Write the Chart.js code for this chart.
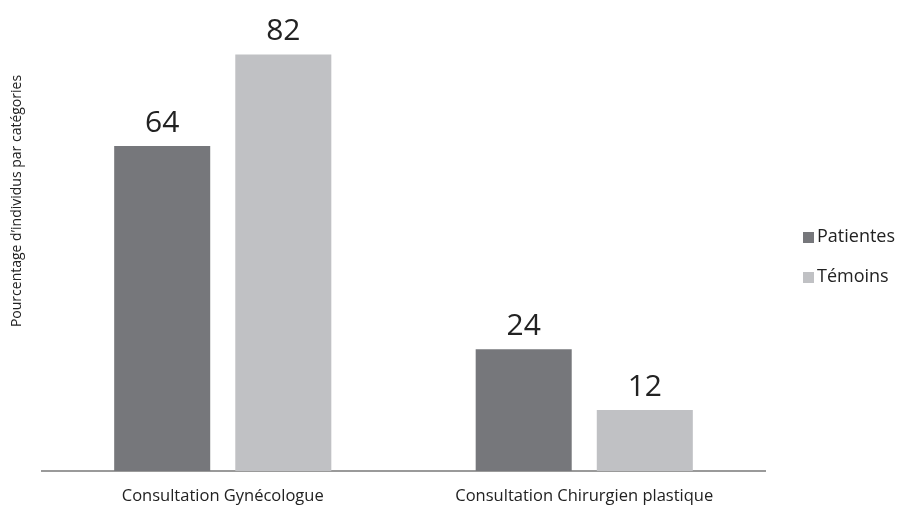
<!DOCTYPE html>
<html lang="fr">
<head>
    <meta charset="UTF-8">
    <title>Consultations</title>
    <script src="https://cdn.jsdelivr.net/npm/chart.js"></script>
    <style>
        html, body { margin: 0; padding: 0; background: #fff; }
        #wrap { width: 899px; height: 507px; }
    </style>
</head>
<body>
    <div id="wrap"><canvas id="chart"></canvas></div>

    <script>
        const categories = ['Consultation Gynécologue', 'Consultation Chirurgien plastique'];
        const patientes = [64, 24];
        const temoins = [82, 12];
        const seriesNames = ['Patientes', 'Témoins'];
        const yTitle = 'Pourcentage d\u2019individus par catégories';

        const FONT = '"Open Sans", sans-serif';

        // numbers above bars + rotated y title + legend on the right
        const extras = {
            id: 'extras',
            afterDatasetsDraw(chart) {
                const ctx = chart.ctx;
                ctx.save();
                ctx.fillStyle = '#222';
                ctx.font = '30px ' + FONT;
                ctx.textAlign = 'center';
                ctx.textBaseline = 'bottom';
                chart.data.datasets.forEach((ds, i) => {
                    chart.getDatasetMeta(i).data.forEach((bar, j) => {
                        ctx.fillText(ds.data[j], bar.x, bar.y - 8);
                    });
                });

                // y title
                ctx.font = '14px ' + FONT;
                ctx.textBaseline = 'middle';
                ctx.translate(17, 201);
                ctx.rotate(-Math.PI / 2);
                ctx.fillText(yTitle, 0, 0);
                ctx.restore();

                // legend
                ctx.save();
                ctx.font = '18px ' + FONT;
                ctx.textBaseline = 'middle';
                ctx.textAlign = 'left';
                chart.data.datasets.forEach((ds, i) => {
                    const y = 237 + i * 40;
                    ctx.fillStyle = ds.backgroundColor;
                    ctx.fillRect(803, y - 5, 11, 11);
                    ctx.fillStyle = '#222';
                    ctx.fillText(ds.label, 817, y);
                });
                ctx.restore();
            }
        };

        const ctx = document.getElementById('chart');
        const chart = new Chart(ctx, {
            type: 'bar',
            data: {
                labels: categories,
                datasets: [
                    {
                        label: seriesNames[0],
                        data: patientes,
                        backgroundColor: '#76777b'
                    },
                    {
                        label: seriesNames[1],
                        data: temoins,
                        backgroundColor: '#c0c1c4'
                    }
                ]
            },
            options: {
                responsive: true,
                maintainAspectRatio: false,
                animation: false,
                categoryPercentage: 0.67,
                barPercentage: 0.793,
                layout: {
                    padding: { left: 42, right: 134, top: 14, bottom: 2 }
                },
                plugins: {
                    legend: { display: false },
                    tooltip: { enabled: false }
                },
                scales: {
                    x: {
                        grid: { display: false, drawTicks: false },
                        border: { color: '#9a9a9a', width: 2 },
                        ticks: {
                            color: '#222',
                            padding: 15,
                            font: { family: FONT, size: 16.5 }
                        },
                        afterFit(scale) { scale.height = 34; }
                    },
                    y: {
                        display: false,
                        min: 0,
                        max: 90
                    }
                }
            },
            plugins: [extras]
        });
    </script>
</body>
</html>
